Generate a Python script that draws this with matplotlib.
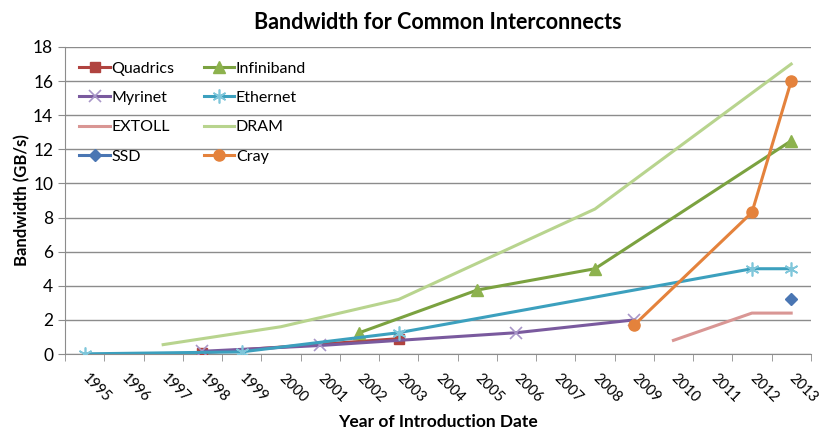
import matplotlib.pyplot as plt
import numpy as np

plt.rcParams['font.family'] = ['Lato', 'DejaVu Sans']

years = list(range(1995, 2014))

quadrics_x = [1998, 2003]
quadrics_y = [0.08, 0.9]
myrinet_x = [1998, 2001, 2006, 2009]
myrinet_y = [0.16, 0.5, 1.25, 2.0]
extoll_x = [2010, 2012, 2013]
extoll_y = [0.8, 2.4, 2.4]
ssd_x = [2013]
ssd_y = [3.2]
infiniband_x = [2002, 2005, 2008, 2013]
infiniband_y = [1.25, 3.75, 5.0, 12.5]
ethernet_x = [1995, 1999, 2003, 2012, 2013]
ethernet_y = [0.01, 0.125, 1.25, 5.0, 5.0]
dram_x = [1997, 2000, 2003, 2008, 2013]
dram_y = [0.55, 1.6, 3.2, 8.5, 17.0]
cray_x = [2009, 2012, 2013]
cray_y = [1.7, 8.3, 16.0]

fig = plt.figure(figsize=(8.19, 4.3), dpi=100)
ax = fig.add_axes([0.0794, 0.1767, 0.9106, 0.714])

lw = 2.2
ax.plot(quadrics_x, quadrics_y, color='#B0433F', lw=lw, marker='s', ms=7, label='Quadrics', zorder=3)
ax.plot(myrinet_x, myrinet_y, color='#7A5A9E', lw=lw, marker='x', ms=8, mec='#A896C8', mew=1.2, label='Myrinet', zorder=3)
ax.plot(extoll_x, extoll_y, color='#D99694', lw=lw, label='EXTOLL', zorder=3)
ax.plot(ssd_x, ssd_y, color='#4A76B3', lw=lw, marker='D', ms=6, label='SSD', zorder=3)
ax.plot(infiniband_x, infiniband_y, color='#7BA240', lw=lw, marker='^', ms=8, mfc='#8DB24E', mec='#8DB24E', label='Infiniband', zorder=3)
ax.plot(ethernet_x, ethernet_y, color='#3CA0BE', lw=lw, marker=(6, 2, 0), ms=10, mec='#7FC6DA', mew=1.2, label='Ethernet', zorder=3)
ax.plot(dram_x, dram_y, color='#B8D48E', lw=lw, label='DRAM', zorder=3)
ax.plot(cray_x, cray_y, color='#E4823C', lw=lw, marker='o', ms=8, label='Cray', zorder=4)

ax.set_xlim(1994.5, 2013.5)
ax.set_ylim(0, 18)
ax.set_yticks(np.arange(0, 19, 2))
ax.yaxis.grid(True, color='#8C8C8C', lw=1)
ax.set_axisbelow(True)

ax.set_xticks(years)
ax.set_xticklabels([str(y) for y in years], rotation=-45, ha='left', va='center',
                   rotation_mode='anchor', fontsize=10.5)
ax.set_xticks(np.arange(1994.5, 2014, 1), minor=True)
ax.tick_params(axis='x', which='major', length=0, pad=16)
ax.tick_params(axis='x', which='minor', length=5, color='#8C8C8C')
ax.tick_params(axis='y', length=5, color='#8C8C8C', labelsize=12.5)

for s in ['top', 'right']:
    ax.spines[s].set_visible(False)
for s in ['left', 'bottom']:
    ax.spines[s].set_color('#8C8C8C')

ax.set_title('Bandwidth for Common Interconnects', fontsize=15.5, fontweight='bold', pad=13)
ax.set_ylabel('Bandwidth (GB/s)', fontsize=12, fontweight='bold', labelpad=2)
ax.set_xlabel('Year of Introduction Date', fontsize=12.5, fontweight='bold', labelpad=6)

ax.legend(loc='upper left', ncol=2, frameon=False, fontsize=11.5, handlelength=1.9,
          handletextpad=0.1, columnspacing=1.85, labelspacing=0.95,
          bbox_to_anchor=(0.0, 1.0))

fig.savefig('out.png', dpi=100)
